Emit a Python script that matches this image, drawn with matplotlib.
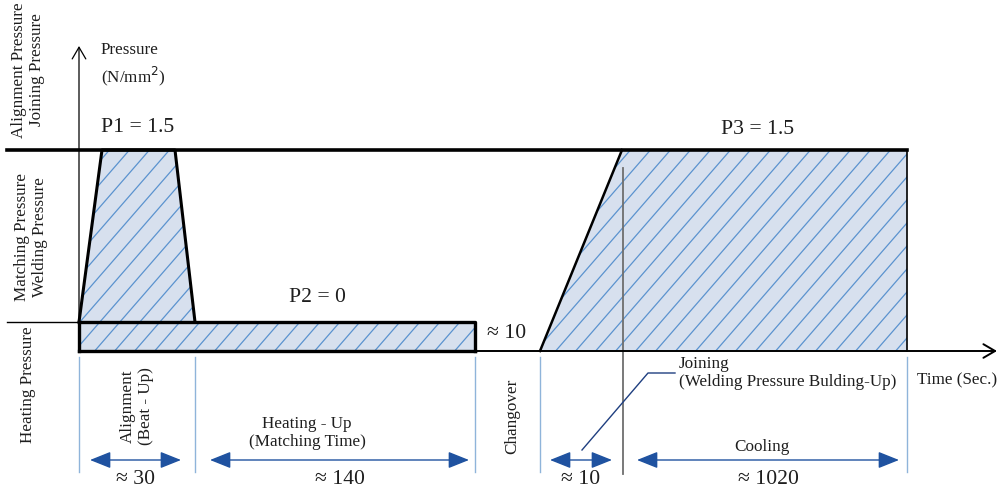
import numpy as np
from matplotlib import pyplot as plt
from matplotlib.patches import Polygon

# pressure levels (N/mm2) and phases
pressure_names = ['P1', 'P2', 'P3']
pressure_values = [1.5, 0, 1.5]
phase_labels = ['Alignment\n(Beat - Up)', 'Heating - Up\n(Matching Time)', 'Changover',
                'Joining\n(Welding Pressure Bulding-Up)', 'Cooling']
phase_times = ['≈ 30', '≈ 140', '≈ 10', '≈ 10', '≈ 1020']
level_labels = ['Alignment Pressure\nJoining Pressure', 'Matching Pressure\nWelding Pressure',
                'Heating Pressure']

# layout of the schematic (pixels)
bounds = [79, 195, 475, 540, 623, 907]
y_top, y_heat, y_base = 150, 322, 351

serif = 'Liberation Serif'
fill_c = '#d7e0ee'
hatch_c = '#5b93cf'
vline_c = '#8fb4da'
arrow_c = '#1f52a0'
txt_c = '#1e1e1e'
fs_small = 12.3
fs_big = 15.6

fig = plt.figure(figsize=(9.98, 4.84), dpi=100)
ax = fig.add_axes([0, 0, 1, 1])
ax.set_xlim(0, 998)
ax.set_ylim(484, 0)
ax.axis('off')


def hatched(pts, spacing=20):
    poly = Polygon(pts, closed=True, facecolor=fill_c, edgecolor='none', zorder=1)
    ax.add_patch(poly)
    xs = [p[0] for p in pts]
    for x0 in np.arange(min(xs) - 300, max(xs) + 300, spacing):
        ln, = ax.plot([x0, x0 + 300], [484, 484 - 300 * 1.15], color=hatch_c, lw=0.9, zorder=2)
        ln.set_clip_path(poly)


# alignment trapezoid and heating rectangle
hatched([(bounds[0], y_heat), (102, y_top), (175, y_top), (bounds[1], y_heat)])
hatched([(bounds[0], y_heat), (bounds[2], y_heat), (bounds[2], y_base), (bounds[0], y_base)])
# joining + cooling
hatched([(bounds[3], y_base), (bounds[4] - 1, y_top), (bounds[5], y_top), (bounds[5], y_base)])

# outlines
ax.plot([bounds[0], 102, 175, bounds[1]], [y_heat, y_top, y_top, y_heat], color='k', lw=2.2, zorder=4)
ax.plot([bounds[0], bounds[2], bounds[2]], [y_heat, y_heat, y_base], color='k', lw=2.4, zorder=4)
ax.plot([bounds[0], bounds[0]], [y_heat, y_base], color='k', lw=2.4, zorder=4)
ax.plot([bounds[0], bounds[2]], [y_base, y_base], color='k', lw=2.4, zorder=4)
ax.plot([bounds[3], bounds[4] - 1], [y_base, y_top], color='k', lw=1.8, zorder=4)
ax.plot([bounds[5], bounds[5]], [y_top, y_base], color='k', lw=1.2, zorder=4)

# level lines
ax.plot([7, bounds[5]], [y_top, y_top], color='k', lw=2.6, zorder=4)
ax.plot([7, bounds[0]], [y_heat, y_heat], color='k', lw=1.0, zorder=4)

# axes with open arrow heads
ax.annotate('', xy=(bounds[0], 46), xytext=(bounds[0], y_base),
            arrowprops=dict(arrowstyle='->,head_length=0.6,head_width=0.35', color='k', lw=0.9,
                            shrinkA=0, shrinkB=0, mutation_scale=14), zorder=5)
ax.annotate('', xy=(997, y_base), xytext=(bounds[0], y_base),
            arrowprops=dict(arrowstyle='->,head_length=0.6,head_width=0.35', color='k', lw=1.4,
                            shrinkA=0, shrinkB=0, mutation_scale=14), zorder=5)

# gray divider between joining and cooling
ax.plot([bounds[4], bounds[4]], [168, 474], color='#6e6e6e', lw=1.3, zorder=3)

# phase boundaries below the axis
for b in [bounds[0], bounds[1], bounds[2], bounds[3], bounds[5]]:
    ax.plot([b, b], [357, 472], color=vline_c, lw=1.0, zorder=3)

# duration arrows
arrows = [(90, 181), (210, 469), (550, 612), (637, 899)]
for (a, b), t in zip(arrows, [phase_times[0], phase_times[1], phase_times[3], phase_times[4]]):
    ax.annotate('', xy=(b, 460), xytext=(a, 460),
                arrowprops=dict(arrowstyle='<|-|>,head_length=0.8,head_width=0.32',
                                color=arrow_c, lw=1.0, shrinkA=0, shrinkB=0, mutation_scale=16))
    ax.text((a + b) / 2, 480, t, ha='center', va='center', fontsize=fs_big, family=serif, color=txt_c)

# pressure labels
ax.text(138, 128, f'{pressure_names[0]} = {pressure_values[0]}', ha='center', va='center',
        fontsize=fs_big, family=serif, color=txt_c)
ax.text(317, 298, f'{pressure_names[1]} = {pressure_values[1]}', ha='center', va='center',
        fontsize=fs_big, family=serif, color=txt_c)
ax.text(758, 130, f'{pressure_names[2]} = {pressure_values[2]}', ha='center', va='center',
        fontsize=fs_big, family=serif, color=txt_c)
ax.text(507, 333, phase_times[2], ha='center', va='center', fontsize=fs_big, family=serif, color=txt_c)

ax.text(101, 65, 'Pressure\n(N/mm$^2$)', ha='left', va='center', fontsize=fs_small, family=serif,
        color=txt_c, linespacing=1.4)
ax.text(917, 380, 'Time (Sec.)', ha='left', va='center', fontsize=fs_small, family=serif, color=txt_c)

# level names (rotated)
ax.text(28, 70, level_labels[0], rotation=90, ha='center', va='center', fontsize=fs_small,
        family=serif, color=txt_c, linespacing=1.15)
ax.text(31, 237, level_labels[1], rotation=90, ha='center', va='center', fontsize=fs_small,
        family=serif, color=txt_c, linespacing=1.15)
ax.text(28, 385, level_labels[2], rotation=90, ha='center', va='center', fontsize=fs_small,
        family=serif, color=txt_c)

# phase names
ax.text(137, 406, phase_labels[0], rotation=90, ha='center', va='center', fontsize=fs_small,
        family=serif, color=txt_c, linespacing=1.15)
ax.text(307, 433, phase_labels[1], ha='center', va='center', fontsize=fs_small, family=serif,
        color=txt_c, linespacing=1.25)
ax.text(512, 416, phase_labels[2], rotation=90, ha='center', va='center', fontsize=fs_small,
        family=serif, color=txt_c)
ax.text(679, 373, phase_labels[3], ha='left', va='center', fontsize=fs_small, family=serif,
        color=txt_c, linespacing=1.25)
ax.text(762, 447, phase_labels[4], ha='center', va='center', fontsize=fs_small, family=serif,
        color=txt_c)

# leader line to the joining label
ax.plot([582, 648, 675], [450, 373, 373], color='#1f3f80', lw=1.0, zorder=5)

fig.savefig('out.png', dpi=100)
